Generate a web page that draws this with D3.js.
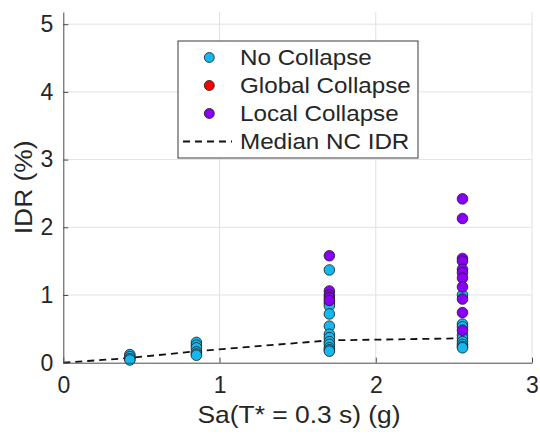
<!DOCTYPE html>
<html>
<head>
<meta charset="utf-8">
<script src="https://cdn.jsdelivr.net/npm/d3@7"></script>
<style>
    body { margin: 0; background: #ffffff; }
    svg { display: block; font-family: "Liberation Sans", Arial, sans-serif; }
</style>
</head>
<body>
<svg id="chart" width="540" height="437"></svg>
<script>

// Spectral acceleration levels of the record sets (g)
var saLevels = [0.426, 0.852, 1.703, 2.555];

// Peak IDR (%) of each run, one list per Sa level
var noCollapseIdr = [
    [0.12, 0.09, 0.06, 0.04],
    [0.30, 0.26, 0.22, 0.16, 0.13, 0.11],
    [1.37, 0.88, 0.84, 0.72, 0.54, 0.42, 0.37, 0.31, 0.27, 0.22, 0.19, 0.17],
    [1.00, 0.57, 0.53, 0.41, 0.36, 0.31, 0.27, 0.24, 0.22]
];
var globalCollapseIdr = [[], [], [], []];
var localCollapseIdr = [
    [],
    [],
    [1.58, 1.06, 1.00, 0.96, 0.92],
    [2.42, 2.13, 1.54, 1.50, 1.38, 1.33, 1.25, 1.12, 0.94, 0.74, 0.48]
];

// Median of the no-collapse runs
var medianSa = [0, 0.426, 0.852, 1.703, 2.555];
var medianIdr = [0, 0.07, 0.17, 0.33, 0.36];

var xTicks = [0, 1, 2, 3];
var yTicks = [0, 1, 2, 3, 4, 5];
var legendLabels = ["No Collapse", "Global Collapse", "Local Collapse", "Median NC IDR"];
var seriesColors = ["#14b8ee", "#ff0000", "#8a00f5"];

var plotLeft = 63.3, plotRight = 532, plotTop = 12, plotBottom = 362.7;
var textColor = "#262626";
var stretch = 1.1;

var svg = d3.select("#chart");

var x = d3.scaleLinear().domain([0, 3]).range([plotLeft, plotRight]);
var y = d3.scaleLinear().domain([0, 5.18]).range([plotBottom, plotTop]);


/*
 *** Grid lines behind everything
 */
function drawGrid(){
    var grid = svg.append("g").attr("class", "grid")
        .attr("stroke", "#e2e2e2").attr("stroke-width", 1);

    grid.selectAll(".gx").data(xTicks.slice(1))
        .enter().append("line")
        .attr("x1", function(d){ return x(d); })
        .attr("x2", function(d){ return x(d); })
        .attr("y1", plotTop)
        .attr("y2", plotBottom);

    grid.selectAll(".gy").data(yTicks.slice(1))
        .enter().append("line")
        .attr("x1", plotLeft)
        .attr("x2", plotRight)
        .attr("y1", function(d){ return y(d); })
        .attr("y2", function(d){ return y(d); });
}


/*
 *** Axes, MATLAB style with inward ticks
 */
function drawAxes(){
    var xAxis = d3.axisBottom(x).tickValues(xTicks).tickFormat(d3.format("d"))
        .tickSizeInner(-5).tickSizeOuter(0).tickPadding(14);
    var yAxis = d3.axisLeft(y).tickValues(yTicks).tickFormat(d3.format("d"))
        .tickSizeInner(-5).tickSizeOuter(0).tickPadding(10);

    var gx = svg.append("g")
        .attr("transform", "translate(0," + plotBottom + ")")
        .call(xAxis);
    var gy = svg.append("g")
        .attr("transform", "translate(" + plotLeft + ",0)")
        .call(yAxis);

    [gx, gy].forEach(function(g){
        g.select(".domain").attr("stroke", "#4a4a4a").attr("stroke-width", 1);
        g.selectAll(".tick line").attr("stroke", "#4a4a4a");
        g.selectAll(".tick text")
            .attr("fill", textColor)
            .style("font-size", "23px")
            .style("font-family", "Liberation Sans, Arial, sans-serif");
    });

    svg.append("text")
        .attr("transform", "translate(" + 299 + ",423) scale(" + stretch + ",1)")
        .attr("text-anchor", "middle")
        .attr("fill", textColor)
        .style("font-size", "24px")
        .text("Sa(T* = 0.3 s) (g)");

    svg.append("text")
        .attr("transform", "translate(32," + ((plotTop + plotBottom) / 2) + ") rotate(-90) scale(" + stretch + ",1)")
        .attr("text-anchor", "middle")
        .attr("fill", textColor)
        .style("font-size", "24px")
        .text("IDR (%)");
}


/*
 *** Median line of the no collapse cases
 */
function drawMedian(){
    var line = d3.line()
        .x(function(d){ return x(d[0]); })
        .y(function(d){ return y(d[1]); });

    svg.append("path")
        .datum(d3.zip(medianSa, medianIdr))
        .attr("d", line)
        .attr("fill", "none")
        .attr("stroke", "#111")
        .attr("stroke-width", 1.8)
        .attr("stroke-dasharray", "7,5");
}


/*
 *** Scatter points, one group per outcome
 */
function drawPoints(){
    var series = [noCollapseIdr, globalCollapseIdr, localCollapseIdr];

    series.forEach(function(levels, s){
        var points = [];
        levels.forEach(function(values, i){
            values.forEach(function(v){ points.push([saLevels[i], v]); });
        });

        svg.append("g").selectAll("circle")
            .data(points)
            .enter().append("circle")
            .attr("cx", function(d){ return x(d[0]); })
            .attr("cy", function(d){ return y(d[1]); })
            .attr("r", 5.3)
            .attr("fill", seriesColors[s])
            .attr("stroke", "#1a1a1a")
            .attr("stroke-width", 0.8);
    });
}


/*
 *** Legend box
 */
function drawLegend(){
    var legend = svg.append("g").attr("transform", "translate(178,41)");

    legend.append("rect")
        .attr("width", 240)
        .attr("height", 117)
        .attr("fill", "#ffffff")
        .attr("stroke", "#3a3a3a")
        .attr("stroke-width", 1);

    var rows = legend.selectAll(".legendRow")
        .data(legendLabels)
        .enter().append("g")
        .attr("class", "legendRow")
        .attr("transform", function(d, i){ return "translate(0," + (16.5 + i * 28) + ")"; });

    rows.filter(function(d, i){ return i < 3; })
        .append("circle")
        .attr("cx", 31.3)
        .attr("cy", 0)
        .attr("r", 5)
        .attr("fill", function(d, i){ return seriesColors[i]; })
        .attr("stroke", "#1a1a1a")
        .attr("stroke-width", 0.8);

    rows.filter(function(d, i){ return i == 3; })
        .append("line")
        .attr("x1", 5)
        .attr("x2", 54)
        .attr("y1", 0)
        .attr("y2", 0)
        .attr("stroke", "#111")
        .attr("stroke-width", 1.8)
        .attr("stroke-dasharray", "7,5");

    rows.append("text")
        .attr("transform", "translate(62,7.8) scale(" + stretch + ",1)")
        .attr("fill", textColor)
        .style("font-size", "22px")
        .text(function(d){ return d; });
}


drawGrid();
drawMedian();
drawPoints();
drawAxes();
drawLegend();

</script>
</body>
</html>
